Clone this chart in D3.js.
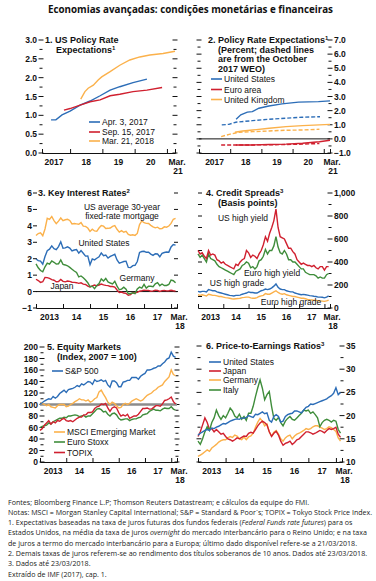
<!DOCTYPE html>
<html>
<head>
<script src="https://d3js.org/d3.v7.min.js" charset="utf-8"></script>
<style>
  body{margin:0;background:#fff;}
  svg text{font-family:"Liberation Sans",Arial,sans-serif;fill:#111;}
  .tk{font-size:8.5px;font-weight:bold;}
  .ttl{font-size:9px;font-weight:bold;}
  .lbl{font-size:8.5px;}
  .note{font-family:"Open Sans",sans-serif;font-size:7.1px;fill:#222;}
</style>
</head>
<body>
<div id="chart"></div>
<script>
// ---- colours
var BLUE = "#2c6db7", RED = "#d0202f", ORANGE = "#fbb14b", GREEN = "#3f8d3b";

// ---- panel 1: US policy rate expectations (year, percent)
var p1AprX = [2017.41,2017.56,2017.75,2018.0,2018.31,2018.62,2018.93,2019.24,2019.54,2019.95,2020.38];
var p1AprY = [0.88,0.88,1.01,1.11,1.27,1.38,1.52,1.67,1.76,1.87,1.96];
var p1SepX = [2017.81,2018.0,2018.31,2018.62,2018.93,2019.24,2019.54,2019.95,2020.38,2020.85];
var p1SepY = [1.14,1.18,1.27,1.36,1.41,1.52,1.56,1.63,1.67,1.74];
var p1MarX = [2018.33,2018.46,2018.56,2018.72,2018.87,2018.98,2019.24,2019.54,2019.85,2020.16,2020.47,2020.88,2021.25];
var p1MarY = [1.43,1.63,1.72,1.80,1.94,2.02,2.16,2.33,2.47,2.55,2.60,2.64,2.70];
var p1Legend = ["Apr. 3, 2017","Sep. 15, 2017","Mar. 21, 2018"];

// ---- panel 2: policy rate expectations, solid = now, dashed = Oct 2017 WEO
var p2UsX = [2018.19,2018.34,2018.55,2018.71,2018.92,2019.24,2019.66,2020.19,2020.83,2021.2];
var p2UsY = [1.39,1.70,1.89,1.93,2.17,2.33,2.48,2.60,2.64,2.69];
var p2UsOldX = [2017.73,2017.96,2018.18,2018.71,2019.24,2019.77,2020.30,2020.88];
var p2UsOldY = [0.99,1.03,1.18,1.29,1.39,1.46,1.53,1.57];
var p2UkX = [2018.15,2018.40,2018.72,2019.25,2019.79,2020.32,2020.86,2021.2];
var p2UkY = [0.47,0.56,0.63,0.75,0.87,0.94,0.99,1.03];
var p2UkOldX = [2017.71,2017.97,2018.29,2018.72,2019.25,2019.79,2020.32,2020.86];
var p2UkOldY = [0.16,0.32,0.47,0.51,0.56,0.61,0.63,0.68];
var p2EaX = [2018.18,2018.72,2019.25,2019.79,2020.32,2020.86,2021.2];
var p2EaY = [-0.43,-0.43,-0.40,-0.37,-0.31,-0.20,-0.10];
var p2EaOldX = [2017.71,2018.29,2018.72,2019.25,2019.79,2020.32,2020.86];
var p2EaOldY = [-0.43,-0.43,-0.43,-0.42,-0.40,-0.37,-0.33];
var p2Legend = ["United States","Euro area","United Kingdom"];

// ---- monthly series Jan 2013 .. Mar 2018
// panel 3: 10-year yields and mortgage rate (percent)
var p3Mortgage = [3.41,3.53,3.57,3.40,3.81,4.46,4.39,4.57,4.32,4.13,4.29,4.48,
  4.32,4.37,4.40,4.33,4.12,4.14,4.12,4.10,4.20,3.98,3.97,3.87,
  3.66,3.80,3.69,3.67,3.87,4.02,3.98,3.84,3.85,3.87,3.97,4.01,
  3.79,3.62,3.71,3.61,3.66,3.48,3.43,3.46,3.42,3.54,4.08,4.30,
  4.19,4.15,4.14,4.03,3.94,3.88,3.92,3.82,3.83,3.94,3.92,3.99,
  4.15,4.40,4.45];
var p3Us = [1.98,1.88,1.85,1.67,2.13,2.49,2.58,2.78,2.61,2.55,2.74,3.03,
  2.64,2.66,2.72,2.65,2.47,2.53,2.56,2.34,2.49,2.33,2.16,2.17,
  1.64,1.99,1.93,2.03,2.12,2.35,2.18,2.22,2.04,2.14,2.21,2.27,
  1.92,1.73,1.78,1.83,1.85,1.47,1.46,1.58,1.60,1.83,2.38,2.44,
  2.45,2.39,2.39,2.28,2.20,2.30,2.29,2.12,2.33,2.38,2.41,2.40,
  2.72,2.86,2.83];
var p3Germany = [1.68,1.45,1.28,1.21,1.51,1.73,1.67,1.86,1.78,1.67,1.69,1.93,
  1.66,1.62,1.57,1.47,1.36,1.25,1.16,0.89,0.95,0.84,0.70,0.54,
  0.30,0.33,0.18,0.37,0.49,0.77,0.64,0.80,0.59,0.52,0.47,0.63,
  0.33,0.11,0.15,0.27,0.14,-0.13,-0.12,-0.07,-0.12,0.16,0.27,0.21,
  0.44,0.21,0.33,0.32,0.30,0.47,0.54,0.36,0.46,0.37,0.37,0.43,
  0.70,0.66,0.53];
var p3Japan = [0.75,0.67,0.56,0.60,0.86,0.85,0.80,0.73,0.69,0.60,0.61,0.74,
  0.62,0.59,0.64,0.62,0.57,0.56,0.54,0.50,0.53,0.45,0.43,0.33,
  0.28,0.34,0.40,0.35,0.40,0.46,0.41,0.38,0.36,0.31,0.31,0.27,
  0.10,-0.06,-0.03,-0.09,-0.11,-0.22,-0.19,-0.06,-0.08,-0.05,0.02,0.05,
  0.09,0.07,0.07,0.02,0.04,0.08,0.07,0.01,0.06,0.07,0.04,0.05,
  0.08,0.05,0.03];

// panel 4: credit spreads (basis points)
var p4UsHY = [500,470,480,450,430,500,460,470,460,420,410,390,
  400,380,370,360,350,340,380,370,400,420,430,500,
  480,440,460,450,430,470,500,550,620,580,650,700,
  760,860,700,620,610,600,560,520,520,490,470,420,
  400,380,390,380,370,370,360,370,350,340,360,360,
  330,360,360];
var p4EuHY = [470,440,460,430,400,470,430,420,410,380,360,350,
  340,330,320,310,300,290,320,330,340,370,380,400,
  390,350,360,340,360,410,420,450,510,470,500,500,
  540,620,530,480,470,500,470,420,420,400,400,380,
  360,340,340,310,300,290,290,290,280,260,270,260,
  260,290,300];
var p4UsHG = [145,140,145,145,140,160,155,150,150,140,135,130,
  125,120,115,110,108,105,110,110,112,120,125,130,
  140,135,135,130,130,140,150,155,165,160,165,175,
  190,210,180,165,160,160,150,145,140,140,130,125,
  120,115,118,115,112,108,105,102,100,95,95,93,
  88,95,105];
var p4EuHG = [115,110,115,110,105,120,115,110,110,105,100,100,
  95,90,88,85,80,78,80,82,85,90,92,95,
  95,88,85,85,90,100,105,110,125,120,120,130,
  140,150,135,125,120,125,115,110,105,100,100,95,
  90,85,85,80,75,72,70,68,66,63,62,60,
  58,62,68];

// panel 5: equity markets (index, 2007 = 100)
var p5Sp = [101,103,106,108,110,109,114,111,114,119,122,125,
  121,126,127,128,130,133,131,136,134,137,140,139,
  135,143,140,141,143,140,142,134,130,141,141,138,
  131,131,139,140,142,142,147,147,147,144,149,152,
  154,160,160,161,163,164,167,167,171,174,179,181,
  191,184,182];
var p5Msci = [103,102,100,98,100,96,95,94,98,100,100,100,
  96,97,100,102,105,107,110,108,108,106,108,104,
  106,110,112,122,125,118,112,104,100,104,102,98,
  94,95,100,102,100,102,106,108,110,108,106,108,
  112,116,118,120,124,126,130,132,134,140,144,148,
  160,152,150];
var p5Stoxx = [60,62,63,64,68,66,70,72,74,76,76,78,
  77,80,80,81,82,81,79,80,81,78,80,80,
  84,88,92,93,91,87,88,83,80,84,85,82,
  76,73,74,75,75,72,74,75,75,77,78,82,
  83,84,88,90,92,90,90,89,92,94,93,93,
  96,92,90];
var p5Topix = [55,58,64,68,72,66,70,68,72,71,74,76,
  72,71,72,70,73,76,78,78,82,82,86,86,
  87,93,96,97,101,100,102,94,88,94,96,94,
  86,80,82,80,83,76,78,80,80,83,88,93,
  93,94,92,92,95,98,98,97,101,107,108,110,
  113,105,101];
var p5Legend = ["S&P 500","MSCI Emerging Market","Euro Stoxx","TOPIX"];

// panel 6: price-to-earnings ratios
var p6Us = [15.8,16.2,16.5,16.8,17.0,16.8,17.3,17.2,17.5,17.7,18.0,18.3,
  18.2,18.5,18.8,19.0,19.2,19.3,19.2,19.5,19.4,19.6,20.0,19.8,
  19.6,20.3,20.2,20.5,20.8,20.4,20.6,19.0,18.6,19.8,20.2,19.8,
  18.6,18.8,19.8,20.2,20.4,20.5,21.0,21.0,20.8,20.6,21.2,21.8,
  22.0,22.5,22.4,22.6,22.8,23.0,23.2,23.4,23.6,24.0,24.3,24.8,
  26.0,24.5,25.0];
var p6Japan = [15.5,16.5,18.0,19.5,18.5,17.0,17.2,16.5,17.0,16.5,16.0,16.2,
  15.5,15.0,14.8,14.5,14.8,15.2,15.0,15.3,15.6,15.5,16.2,16.4,
  16.2,17.0,17.8,18.4,18.8,18.5,18.0,16.5,15.5,16.2,16.6,15.8,
  14.5,13.6,14.0,14.2,14.5,13.8,14.2,14.8,15.0,15.5,16.0,16.5,
  16.5,16.3,16.0,16.2,16.5,16.8,16.6,16.3,16.8,17.2,17.0,17.2,
  17.5,16.0,15.3];
var p6Germany = [11.2,11.5,11.8,12.2,12.6,12.3,13.0,13.4,13.8,14.3,14.6,14.8,
  14.8,15.2,15.5,15.3,15.8,15.6,15.0,14.8,15.4,14.8,15.4,15.6,
  16.2,17.5,18.6,19.4,18.8,17.8,18.2,16.5,15.6,16.4,16.8,16.0,
  15.0,14.5,15.2,15.6,15.8,15.0,15.6,16.0,16.2,16.5,16.8,17.2,
  17.0,17.2,17.6,17.8,17.8,17.5,17.3,17.0,17.2,17.6,17.4,17.0,
  16.6,15.2,14.5];
var p6Italy = [14.5,13.8,15.0,16.5,17.6,16.8,18.5,19.5,21.2,20.0,19.2,20.0,
  19.5,20.5,21.6,21.0,19.9,19.5,20.3,19.2,19.8,19.0,20.5,20.5,
  22.0,24.1,26.0,27.7,25.9,23.4,24.5,25.2,22.0,19.4,19.0,19.6,
  18.5,17.8,18.8,19.4,19.8,19.2,19.0,19.5,20.0,20.5,21.2,21.0,
  21.2,20.5,20.8,20.2,19.5,17.6,18.5,19.0,19.2,19.0,18.6,19.0,
  18.8,17.0,16.2];
var p6Legend = ["United States","Japan","Germany","Italy"];

// tick labels
var yearsA = ["2017","18","19","20"];
var yearsB = ["2013","14","15","16","17"];

var svg = d3.select("#chart").append("svg").attr("width",376).attr("height",581);

svg.append("text").attr("x",190.5).attr("y",13).attr("text-anchor","middle")
   .style("font-family","'Open Sans',sans-serif").style("font-size","9.8px").style("font-weight","bold")
   .text("Economias avançadas: condições monetárias e financeiras");

function monthly(vals){
    return vals.map(function(v,i){ return [2013 + i/12, v]; });
}
function pairs(xs, ys){
    return xs.map(function(x,i){ return [x, ys[i]]; });
}

function drawLine(g, x, y, data, color, dashed){
    var line = d3.line().x(function(d){return x(d[0])}).y(function(d){return y(d[1])});
    g.append("path").datum(data).attr("d",line).attr("fill","none")
     .attr("stroke",color).attr("stroke-width",1.4)
     .attr("stroke-dasharray", dashed ? "4,2" : null);
}

function hline(g, x, y, v, color, w){
    g.append("line").attr("x1",x.range()[0]).attr("x2",x.range()[1])
     .attr("y1",y(v)).attr("y2",y(v)).attr("stroke",color).attr("stroke-width",w);
}

// short dashes of an IMF-style side axis
function dashes(g, y, vals, xc, w){
    g.append("g").selectAll("line").data(vals).join("line")
     .attr("x1",xc-w/2).attr("x2",xc+w/2)
     .attr("y1",function(d){return y(d)}).attr("y2",function(d){return y(d)})
     .attr("stroke","#111").attr("stroke-width",1);
}
function sideLabels(g, y, vals, xpos, anchor, fmt){
    g.append("g").selectAll("text").data(vals).join("text").attr("class","tk")
     .attr("x",xpos).attr("y",function(d){return y(d)+3})
     .attr("text-anchor",anchor).text(fmt);
}

function xAxis(g, x, y0, tickVals, labelPos, labels, endLabel){
    g.append("g").attr("transform","translate(0,"+y0+")")
     .call(d3.axisBottom(x).tickValues(tickVals).tickSize(-4).tickSizeOuter(-4).tickFormat(""))
     .call(function(a){ a.selectAll("path,line").attr("stroke","#111"); });
    g.append("g").selectAll("text").data(labels).join("text").attr("class","tk")
     .attr("x",function(d,i){return x(labelPos[i])}).attr("y",y0+12)
     .attr("text-anchor","middle").text(function(d){return d});
    var xe = x.range()[1];
    g.append("text").attr("class","tk").attr("x",xe+2).attr("y",y0+12).attr("text-anchor","middle").text("Mar.");
    g.append("text").attr("class","tk").attr("x",xe+3).attr("y",y0+21).attr("text-anchor","middle").text(endLabel);
}

function title(g, lines, x0, y0){
    lines.forEach(function(l,i){
        var t = g.append("text").attr("class","ttl").attr("x",l.x).attr("y",y0+i*9.6);
        t.append("tspan").text(l.t);
        if(l.sup){ t.append("tspan").attr("dy",-3).style("font-size","6px").text(l.sup); }
    });
}

function legend(g, names, colors, x1, x2, ys){
    names.forEach(function(n,i){
        g.append("line").attr("x1",x1).attr("x2",x2).attr("y1",ys[i]).attr("y2",ys[i])
         .attr("stroke",colors[i]).attr("stroke-width",1.6);
        g.append("text").attr("class","lbl").attr("x",x2+2).attr("y",ys[i]+3).text(n);
    });
}

// ================= panel 1
(function(){
    var g = svg.append("g");
    var x = d3.scaleLinear().domain([2017.13,2021.25]).range([42,175]);
    var y = d3.scaleLinear().domain([0,3]).range([153,40]);
    var maj = d3.range(0,3.01,0.5), mnr = d3.range(0.25,3,0.5);
    dashes(g,y,maj,41,5); dashes(g,y,mnr,41,3);
    dashes(g,y,maj,175,5); dashes(g,y,mnr,175,3);
    sideLabels(g,y,maj,37,"end",function(d){return d.toFixed(1)});
    xAxis(g,x,153,[2018,2019,2020,2021],[2017.5,2018.5,2019.5,2020.5],yearsA,"21");
    drawLine(g,x,y,pairs(p1AprX,p1AprY),BLUE);
    drawLine(g,x,y,pairs(p1SepX,p1SepY),RED);
    drawLine(g,x,y,pairs(p1MarX,p1MarY),ORANGE);
    title(g,[{t:"1. US Policy Rate",x:45},{t:"Expectations",sup:"1",x:56}],0,43);
    legend(g,p1Legend,[BLUE,RED,ORANGE],89,100,[122,132,141]);
})();

// ================= panel 2
(function(){
    var g = svg.append("g");
    var x = d3.scaleLinear().domain([2017.0,2021.2]).range([199,330]);
    var y = d3.scaleLinear().domain([-1,7]).range([153,40]);
    var maj = d3.range(-1,7.01,1), mnr = d3.range(-0.5,7,1);
    dashes(g,y,maj,199,5); dashes(g,y,mnr,199,3);
    dashes(g,y,maj,330,5); dashes(g,y,mnr,330,3);
    sideLabels(g,y,maj,334,"start",function(d){return (d<0?"\u2212":"")+Math.abs(d).toFixed(1)});
    xAxis(g,x,153,[2018,2019,2020,2021],[2017.5,2018.5,2019.5,2020.5],yearsA,"21");
    hline(g,x,y,0,"#111",1);
    drawLine(g,x,y,pairs(p2EaOldX,p2EaOldY),RED,true);
    drawLine(g,x,y,pairs(p2EaX,p2EaY),RED);
    drawLine(g,x,y,pairs(p2UkOldX,p2UkOldY),ORANGE,true);
    drawLine(g,x,y,pairs(p2UkX,p2UkY),ORANGE);
    drawLine(g,x,y,pairs(p2UsOldX,p2UsOldY),BLUE,true);
    drawLine(g,x,y,pairs(p2UsX,p2UsY),BLUE);
    title(g,[{t:"2. Policy Rate Expectations",sup:"1",x:208},{t:"(Percent; dashed lines",x:218},
             {t:"are from the October",x:218},{t:"2017 WEO)",x:218}],0,43);
    legend(g,p2Legend,[BLUE,RED,ORANGE],211,222,[79,89.5,99.5]);
})();

// ================= panel 3
(function(){
    var g = svg.append("g");
    var x = d3.scaleLinear().domain([2013,2018.22]).range([36,177]);
    var y = d3.scaleLinear().domain([-1,6]).range([308,193]);
    var maj = d3.range(-1,6.01,1);
    dashes(g,y,maj,35,4); dashes(g,y,maj,176,4);
    sideLabels(g,y,maj,32,"end",function(d){return d<0?"\u22121":d});
    xAxis(g,x,308,[2014,2015,2016,2017,2018],[2013.5,2014.5,2015.5,2016.5,2017.5],yearsB,"18");
    hline(g,x,y,0,"#111",1);
    drawLine(g,x,y,monthly(p3Japan),RED);
    drawLine(g,x,y,monthly(p3Germany),GREEN);
    drawLine(g,x,y,monthly(p3Us),BLUE);
    drawLine(g,x,y,monthly(p3Mortgage),ORANGE);
    title(g,[{t:"3. Key Interest Rates",sup:"2",x:38}],0,196);
    var L = [["US average 30-year",122,210],["fixed-rate mortgage",122,219],["United States",104,246],
             ["Germany",137,281],["Japan",62,289]];
    L.forEach(function(l){ g.append("text").attr("class","lbl").attr("x",l[1]).attr("y",l[2]).attr("text-anchor","middle").text(l[0]); });
})();

// ================= panel 4
(function(){
    var g = svg.append("g");
    var x = d3.scaleLinear().domain([2013,2018.22]).range([198,330]);
    var y = d3.scaleLinear().domain([0,1000]).range([308,193]);
    var maj = d3.range(0,1001,200), mnr = d3.range(100,1000,200);
    dashes(g,y,d3.range(100,1001,100),200,4);
    dashes(g,y,maj,330,5); dashes(g,y,mnr,330,3);
    sideLabels(g,y,maj,334,"start",d3.format(","));
    xAxis(g,x,308,[2014,2015,2016,2017,2018],[2013.5,2014.5,2015.5,2016.5,2017.5],yearsB,"18");
    drawLine(g,x,y,monthly(p4EuHG),ORANGE);
    drawLine(g,x,y,monthly(p4UsHG),BLUE);
    drawLine(g,x,y,monthly(p4EuHY),GREEN);
    drawLine(g,x,y,monthly(p4UsHY),RED);
    title(g,[{t:"4. Credit Spreads",sup:"3",x:206},{t:"(Basis points)",x:218}],0,196);
    var L = [["US high yield",243,221],["Euro high yield",272,276],["US high grade",237,286],["Euro high grade",291,305]];
    L.forEach(function(l){ g.append("text").attr("class","lbl").attr("x",l[1]).attr("y",l[2]).attr("text-anchor","middle").text(l[0]); });
})();

// ================= panel 5
(function(){
    var g = svg.append("g");
    var x = d3.scaleLinear().domain([2013,2018.22]).range([40,177]);
    var y = d3.scaleLinear().domain([0,200]).range([462,347]);
    var maj = d3.range(0,201,20), mnr = d3.range(10,200,20);
    dashes(g,y,maj,42,5); dashes(g,y,mnr,42,3);
    dashes(g,y,maj,177,5); dashes(g,y,mnr,177,3);
    sideLabels(g,y,maj,38,"end",function(d){return d});
    xAxis(g,x,462,[2014,2015,2016,2017,2018],[2013.5,2014.5,2015.5,2016.5,2017.5],yearsB,"18");
    hline(g,x,y,100,"#8c8c8c",2.5);
    drawLine(g,x,y,monthly(p5Stoxx),GREEN);
    drawLine(g,x,y,monthly(p5Topix),RED);
    drawLine(g,x,y,monthly(p5Msci),ORANGE);
    drawLine(g,x,y,monthly(p5Sp),BLUE);
    title(g,[{t:"5. Equity Markets",x:47},{t:"(Index, 2007 = 100)",x:57}],0,350);
    legend(g,[p5Legend[0]],[BLUE],52,63,[371]);
    legend(g,p5Legend.slice(1),[ORANGE,GREEN,RED],54,65,[432,442,452.5]);
})();

// ================= panel 6
(function(){
    var g = svg.append("g");
    var x = d3.scaleLinear().domain([2013,2018.22]).range([198,342]);
    var y = d3.scaleLinear().domain([10,35]).range([462,346]);
    var maj = d3.range(10,35.1,5), mnr = d3.range(12.5,35,5);
    dashes(g,y,maj,199,5); dashes(g,y,mnr,199,3);
    dashes(g,y,maj,342,5); dashes(g,y,mnr,342,3);
    sideLabels(g,y,maj,346,"start",function(d){return d});
    xAxis(g,x,462,[2014,2015,2016,2017,2018],[2013.5,2014.5,2015.5,2016.5,2017.5],yearsB,"18");
    drawLine(g,x,y,monthly(p6Germany),ORANGE);
    drawLine(g,x,y,monthly(p6Japan),RED);
    drawLine(g,x,y,monthly(p6Italy),GREEN);
    drawLine(g,x,y,monthly(p6Us),BLUE);
    title(g,[{t:"6. Price-to-Earnings Ratios",sup:"3",x:206}],0,349);
    legend(g,p6Legend,[BLUE,RED,ORANGE,GREEN],209,221,[362,371,380,390]);
})();

// ================= notes
var notes = [
  [{t:"Fontes; Bloomberg Finance L.P; Thomson Reuters Datastream; e cálculos da equipe do FMI."}],
  [{t:"Notas: MSCI = Morgan Stanley Capital International; S&P = Standard & Poor´s; TOPIX = Tokyo Stock Price Index."}],
  [{t:"1. Expectativas baseadas na taxa de juros futuras dos fundos federais ("},{t:"Federal Funds rate futures",i:1},{t:") para os"}],
  [{t:"Estados Unidos, na média da taxa de juros "},{t:"overnight",i:1},{t:" do mercado interbancário para o Reino Unido; e na taxa"}],
  [{t:"de juros a termo do mercado interbancário para a Europa; último dado disponível refere-se a 21/03/2018."}],
  [{t:"2. Demais taxas de juros referem-se ao rendimento dos títulos soberanos de 10 anos. Dados até 23/03/2018."}],
  [{t:"3. Dados até 23/03/2018."}],
  [{t:"Extraído de IMF (2017), cap. 1."}]
];
notes.forEach(function(parts,i){
    var t = svg.append("text").attr("class","note").attr("x",8).attr("y",504.5+i*10.3);
    parts.forEach(function(p){
        t.append("tspan").style("font-style",p.i?"italic":null).text(p.t);
    });
});
</script>
</body>
</html>
